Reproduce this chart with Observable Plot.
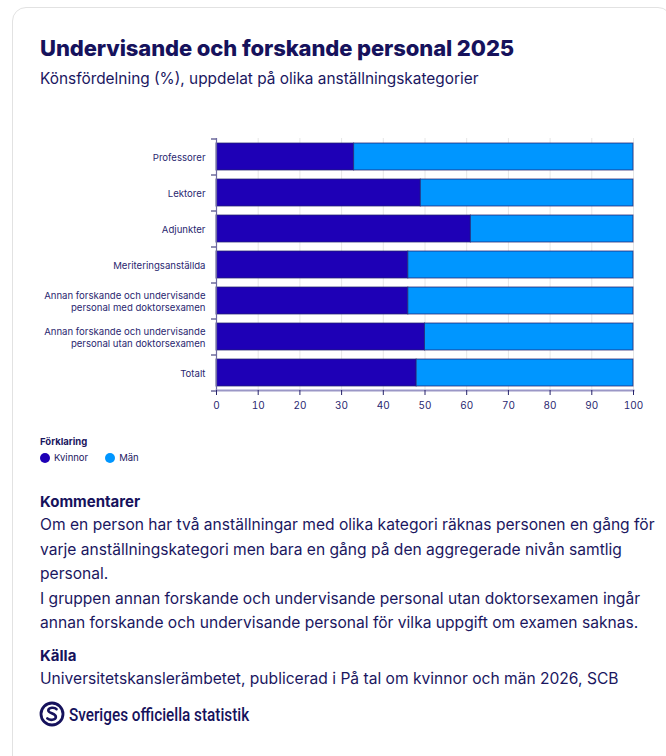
<!DOCTYPE html>
<html>
<head>
<meta charset="utf-8">
<script src="https://cdn.jsdelivr.net/npm/d3@7"></script>
<script src="https://cdn.jsdelivr.net/npm/@observablehq/plot@0.6"></script>
<style>
  html, body { margin: 0; padding: 0; background: #fff; }
  body { width: 666px; height: 756px; overflow: hidden; position: relative; font-family: Inter, "Noto Sans", sans-serif; color: #1b175f; }
  .card { position: absolute; left: 12px; top: 7px; width: 660px; height: 780px; border: 1px solid #e2e2e2; border-radius: 14px; box-sizing: border-box; }
  .title { position: absolute; left: 40px; top: 35px; font-size: 22px; font-weight: 800; color: #16125c; letter-spacing: -0.1px; }
  .subtitle { position: absolute; left: 40px; top: 69px; font-size: 15.4px; color: #1b175f; }
  #chart { position: absolute; left: 0; top: 133px; }
  .legend { position: absolute; left: 40px; top: 436px; font-size: 9.5px; color: #1b175f; }
  .legend .lt { font-weight: 700; margin-bottom: 5px; }
  .legend .items { display: flex; gap: 17px; align-items: center; }
  .legend .it { display: flex; align-items: center; gap: 4px; }
  .legend .dot { width: 10px; height: 10px; border-radius: 50%; display: inline-block; }
  .notes { position: absolute; left: 40px; top: 491px; width: 620px; }
  .h { font-size: 15px; font-weight: 700; color: #16125c; line-height: 22px; }
  .p { font-size: 15.6px; line-height: 24.5px; color: #1b175f; }
  .logo { position: absolute; left: 39px; top: 701px; display: flex; align-items: center; gap: 4px; }
  .logo span { font-family: Roboto, sans-serif; font-weight: 500; font-size: 18px; color: #16125c; display: inline-block; transform: scaleX(0.85); transform-origin: left center; white-space: nowrap; }
</style>
</head>
<body>
<div class="card"></div>
<div class="title">Undervisande och forskande personal 2025</div>
<div class="subtitle">Könsfördelning (%), uppdelat på olika anställningskategorier</div>
<div id="chart"></div>
<div class="legend" id="legend"></div>
<div class="notes">
  <div class="h">Kommentarer</div>
  <div class="p">Om en person har två anställningar med olika kategori räknas personen en gång för varje anställningskategori men bara en gång på den aggregerade nivån samtlig personal.<br>I gruppen annan forskande och undervisande personal utan doktorsexamen ingår annan forskande och undervisande personal för vilka uppgift om examen saknas.</div>
  <div class="h" style="margin-top:9px">Källa</div>
  <div class="p">Universitetskanslerämbetet, publicerad i På tal om kvinnor och män 2026, SCB</div>
</div>
<div class="logo">
  <svg width="26" height="26" viewBox="0 0 26 26">
    <circle cx="13" cy="13" r="11" fill="none" stroke="#16125c" stroke-width="2.8"/>
    <path d="M17.5 8.2 C15.5 6 9.5 6.3 9.3 9.4 C9.1 12.4 17 12.2 16.9 16 C16.8 19.3 10.5 19.6 8.3 17.4" fill="none" stroke="#16125c" stroke-width="2.6" stroke-linecap="round"/>
  </svg>
  <span>Sveriges officiella statistik</span>
</div>
<script>
// ---- data ----
const categories = [
  "Professorer",
  "Lektorer",
  "Adjunkter",
  "Meriteringsanställda",
  "Annan forskande och undervisande personal med doktorsexamen",
  "Annan forskande och undervisande personal utan doktorsexamen",
  "Totalt"
];
const categoryLabels = [
  "Professorer",
  "Lektorer",
  "Adjunkter",
  "Meriteringsanställda",
  "Annan forskande och undervisande\npersonal med doktorsexamen",
  "Annan forskande och undervisande\npersonal utan doktorsexamen",
  "Totalt"
];
const series = ["Kvinnor", "Män"];
const kvinnor = [33, 49, 61, 46, 46, 50, 48];
const man = [67, 51, 39, 54, 54, 50, 52];
const xTicks = [0, 10, 20, 30, 40, 50, 60, 70, 80, 90, 100];
const colors = ["#1e00b6", "#0096ff"];

// ---- build table ----
const data = [];
categories.forEach((c, i) => {
  data.push({category: c, gender: series[0], value: kvinnor[i]});
  data.push({category: c, gender: series[1], value: man[i]});
});
const labelOf = new Map(categories.map((c, i) => [c, categoryLabels[i]]));

const W = 666, H = 289, mT = 5, mB = 32, mL = 216, mR = 33;
const step = (H - mT - mB) / categories.length;
const ink = "#26236b";

const chart = Plot.plot({
  width: W, height: H,
  marginLeft: mL, marginRight: mR, marginTop: mT, marginBottom: mB,
  style: {fontFamily: "Inter, 'Noto Sans', sans-serif", fontSize: "10px", color: "#2a2770", background: "transparent"},
  x: {domain: [0, 100], label: null},
  y: {domain: categories, paddingInner: 0.26, paddingOuter: 0.13, label: null},
  color: {domain: series, range: colors},
  marks: [
    Plot.gridX(xTicks, {stroke: "#e6e6e6", strokeOpacity: 1}),
    Plot.barX(data, {y: "category", x: "value", fill: "gender", stroke: "#242070", strokeWidth: 1, strokeOpacity: 0.75}),
    Plot.ruleX([0], {stroke: "#6f6ba3", strokeWidth: 1.2}),
    Plot.ruleY(categories, {y: d => d, x1: 0, x2: 0, insetLeft: -5, dy: -step / 2, stroke: ink}),
    Plot.ruleY(categories.slice(-1), {y: d => d, x1: 0, x2: 0, insetLeft: -5, dy: step / 2, stroke: ink}),
    Plot.frame({anchor: "bottom", stroke: "#9b97c6", strokeWidth: 2}),
    Plot.axisX({ticks: xTicks, tickSize: 5, tickPadding: 6, stroke: ink, label: null, fill: "#2a2770"}),
    Plot.axisY({tickSize: 0, tickPadding: 11, tickFormat: d => labelOf.get(d), lineHeight: 1.3, fontSize: 9.6, label: null, fill: "#2a2770"})
  ]
});
document.getElementById("chart").appendChild(chart);

// legend
const lg = document.getElementById("legend");
lg.innerHTML = '<div class="lt">Förklaring</div><div class="items">' +
  series.map((s, i) => `<div class="it"><span class="dot" style="background:${colors[i]}"></span>${s}</div>`).join("") +
  '</div>';
</script>
</body>
</html>
